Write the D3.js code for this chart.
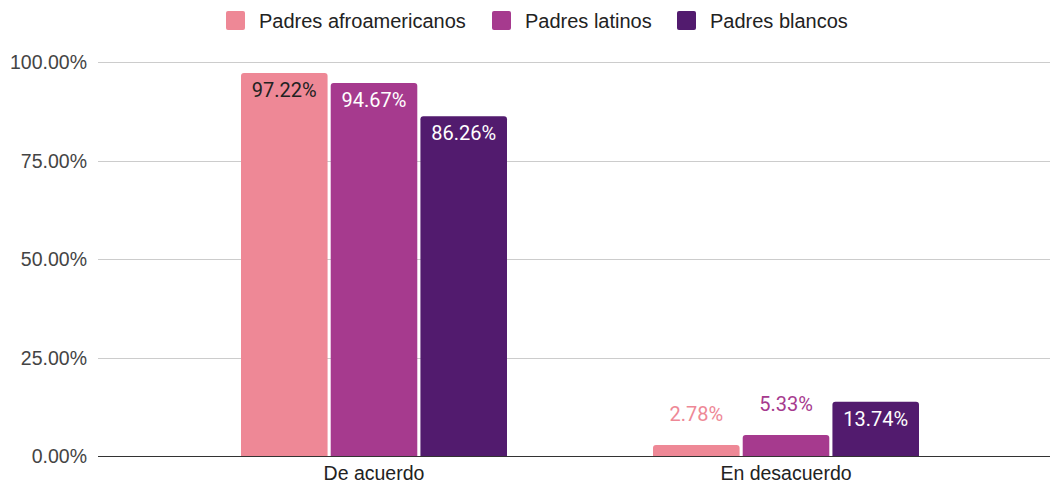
<!DOCTYPE html>
<html><head><meta charset="utf-8">
<script src="https://cdn.jsdelivr.net/npm/d3@7"></script>
<style>body{margin:0;background:#fff;font-family:Roboto,Arial,sans-serif}</style>
</head><body><svg id="c" width="1052" height="485"></svg>
<script>
const categories = ["De acuerdo", "En desacuerdo"];
const seriesNames = ["Padres afroamericanos", "Padres latinos", "Padres blancos"];
const afro = [97.22, 2.78];
const latinos = [94.67, 5.33];
const blancos = [86.26, 13.74];
const yTicks = [0, 25, 50, 75, 100];
const colors = ["#ee8896", "#a63a8e", "#521b6e"];
const seriesValues = [afro, latinos, blancos];

const svg = d3.select("#c");
const font = "'Liberation Sans', Arial, sans-serif";
const labelFont = "Roboto, Arial, sans-serif";
const y = d3.scaleLinear().domain([0, 100]).range([456, 62]);
const x0 = d3.scaleBand().domain(categories).range([168, 992]);
const x1 = d3.scaleBand().domain(seriesNames).range([73, 339]).paddingInner(0.035);

svg.append("g").selectAll("line").data(yTicks.filter(d => d > 0)).join("line")
  .attr("x1", 98).attr("x2", 1050)
  .attr("y1", d => Math.round(y(d)) + 0.5).attr("y2", d => Math.round(y(d)) + 0.5)
  .attr("stroke", "#cccccc").attr("stroke-width", 1);

svg.append("g").selectAll("text").data(yTicks).join("text")
  .attr("x", 87).attr("y", d => y(d) + 7)
  .attr("text-anchor", "end").attr("font-family", font).attr("font-size", 19.5)
  .attr("fill", "#444").text(d => d.toFixed(2) + "%");

function topRounded(x, yTop, w, h, r) {
  r = Math.min(r, h, w / 2);
  return `M${x},${yTop + h}V${yTop + r}Q${x},${yTop} ${x + r},${yTop}H${x + w - r}Q${x + w},${yTop} ${x + w},${yTop + r}V${yTop + h}Z`;
}

const bars = [];
categories.forEach((c, ci) => {
  seriesNames.forEach((s, si) => {
    bars.push({ c, s, si, v: seriesValues[si][ci] });
  });
});

const bx = d => x0(d.c) + x1(d.s);
svg.append("g").selectAll("path").data(bars).join("path")
  .attr("d", d => topRounded(bx(d), y(d.v), x1.bandwidth(), y(0) - y(d.v), 3))
  .attr("fill", d => colors[d.si]);

svg.append("g").selectAll("text").data(bars).join("text")
  .attr("x", d => bx(d) + x1.bandwidth() / 2)
  .attr("y", d => (y(0) - y(d.v) > 40) ? y(d.v) + 24 : y(d.v) - 24)
  .attr("text-anchor", "middle").attr("font-family", labelFont).attr("font-size", 20)
  .attr("fill", d => {
    if (y(0) - y(d.v) > 40) return d.si === 0 ? "#222" : "#fff";
    return colors[d.si];
  })
  .text(d => d.v.toFixed(2) + "%");

svg.append("line").attr("x1", 98).attr("x2", 1050)
  .attr("y1", y(0) + 0.5).attr("y2", y(0) + 0.5).attr("stroke", "#333").attr("stroke-width", 1);

svg.append("g").selectAll("text").data(categories).join("text")
  .attr("x", d => x0(d) + x0.bandwidth() / 2).attr("y", 480)
  .attr("text-anchor", "middle").attr("font-family", font).attr("font-size", 19.5)
  .attr("fill", "#222").text(d => d);

const legX = [226, 492, 677];
const leg = svg.append("g").selectAll("g").data(seriesNames).join("g")
  .attr("transform", (d, i) => `translate(${legX[i]},11)`);
leg.append("rect").attr("width", 19).attr("height", 19).attr("rx", 2)
  .attr("fill", (d, i) => colors[i]);
leg.append("text").attr("x", 33).attr("y", 17).attr("font-family", font)
  .attr("font-size", 20).attr("fill", "#222").text(d => d);
</script></body></html>
